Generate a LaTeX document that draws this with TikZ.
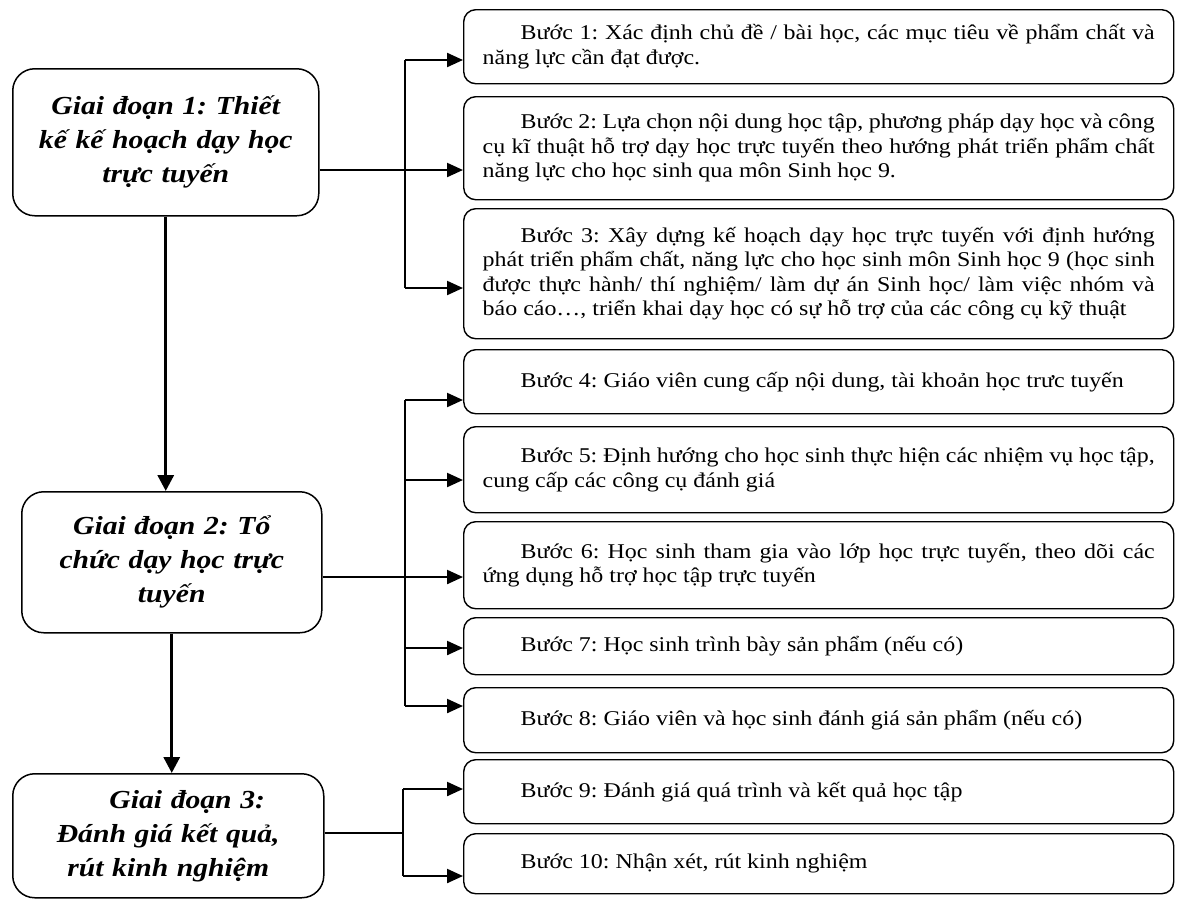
\documentclass[tikz,border=0pt]{standalone}
\usepackage{fontspec}
\setmainfont{Liberation Serif}[FakeStretch=1.14]
\usetikzlibrary{arrows.meta,calc}
\frenchspacing

\begin{document}
\begin{tikzpicture}[x=1pt,y=-1pt]
    \tikzstyle{stage node}=[draw,line width=1.5pt,rounded corners=22pt,anchor=north west,inner sep=0pt,text width=300pt,align=center,font=\fontsize{26}{34}\selectfont\bfseries\itshape]
    \tikzstyle{step node}=[draw,line width=1.4pt,rounded corners=12pt,anchor=north west,inner xsep=19pt,inner ysep=0pt,text width=672pt,align=justify,font=\fontsize{21}{24.5}\selectfont,execute at begin node={\hspace*{38pt}}]
    \tikzstyle{link}=[line width=2.2pt]
    \tikzstyle{branch}=[line width=2.2pt,-{Triangle[length=16pt,width=14pt]}]
    \tikzstyle{flow}=[line width=3.2pt,-{Triangle[length=16pt,width=16pt]}]
    \useasboundingbox (0,0) rectangle (1177,898);

    % stages
    \node(g1)[stage node,minimum width=306pt,minimum height=147pt] at (12,68)
        {Giai đoạn 1: Thiết\\ kế kế hoạch dạy học\\ trực tuyến};
    \node(g2)[stage node,minimum width=298pt,minimum height=141pt] at (21,491)
        {Giai đoạn 2: Tổ\\ chức dạy học trực\\ tuyến};
    \node(g3)[stage node,minimum width=311pt,minimum height=124pt] at (12,773)
        {\hspace*{38pt}Giai đoạn 3:\\ Đánh giá kết quả,\\ rút kinh nghiệm};

    % steps
    \node(s1)[step node,minimum height=74pt] at (463,9)
        {Bước 1: Xác định chủ đề / bài học, các mục tiêu về phẩm chất và\linebreak năng lực cần đạt được.};
    \node(s2)[step node,minimum height=103pt] at (463,96)
        {Bước 2: Lựa chọn nội dung học tập, phương pháp dạy học và công\linebreak cụ kĩ thuật hỗ trợ dạy học trực tuyến theo hướng phát triển phẩm chất\linebreak năng lực cho học sinh qua môn Sinh học 9.};
    \node(s3)[step node,minimum height=130pt] at (463,208)
        {Bước 3: Xây dựng kế hoạch dạy học trực tuyến với định hướng\linebreak phát triển phẩm chất, năng lực cho học sinh môn Sinh học 9 (học sinh\linebreak được thực hành/ thí nghiệm/ làm dự án Sinh học/ làm việc nhóm và\linebreak báo cáo…, triển khai dạy học có sự hỗ trợ của các công cụ kỹ thuật\parfillskip=0pt\relax};
    \node(s4)[step node,minimum height=64pt] at (463,349)
        {Bước 4: Giáo viên cung cấp nội dung, tài khoản học trưc tuyến};
    \node(s5)[step node,minimum height=86pt] at (463,426)
        {Bước 5: Định hướng cho học sinh thực hiện các nhiệm vụ học tập,\linebreak cung cấp các công cụ đánh giá};
    \node(s6)[step node,minimum height=87pt] at (463,521)
        {Bước 6: Học sinh tham gia vào lớp học trực tuyến, theo dõi các\linebreak ứng dụng hỗ trợ học tập trực tuyến};
    \node(s7)[step node,minimum height=57pt] at (463,617)
        {Bước 7: Học sinh trình bày sản phẩm (nếu có)};
    \node(s8)[step node,minimum height=65pt] at (463,687)
        {Bước 8: Giáo viên và học sinh đánh giá sản phẩm (nếu có)};
    \node(s9)[step node,minimum height=64pt] at (463,759)
        {Bước 9: Đánh giá quá trình và kết quả học tập};
    \node(s10)[step node,minimum height=60pt] at (463,833)
        {Bước 10: Nhận xét, rút kinh nghiệm};

    % stage to stage
    \draw[flow] (g1.south) -- (g1.south |- g2.north);
    \draw[flow] (g2.south) -- (g2.south |- g3.north);

    % stage 1 branches
    \coordinate(j1) at (405,170);
    \coordinate(t1) at (405,60);
    \coordinate(b1) at (405,288);
    \draw[link] (g1.east |- j1) -- (j1);
    \draw[link] (t1) -- (b1);
    \draw[branch] (t1) -- (t1 -| s1.west);
    \draw[branch] (j1) -- (j1 -| s2.west);
    \draw[branch] (b1) -- (b1 -| s3.west);

    % stage 2 branches
    \coordinate(j2) at (405,577);
    \coordinate(t2) at (405,400);
    \coordinate(b2) at (405,706);
    \draw[link] (g2.east |- j2) -- (j2);
    \draw[link] (t2) -- (b2);
    \foreach \y/\s in {400/s4,480/s5,577/s6,648/s7,706/s8}
        \draw[branch] (405,\y) -- (\s.west |- 405,\y);

    % stage 3 branches
    \coordinate(j3) at (403,833);
    \coordinate(t3) at (403,789);
    \coordinate(b3) at (403,876);
    \draw[link] (g3.east |- j3) -- (j3);
    \draw[link] (t3) -- (b3);
    \draw[branch] (t3) -- (t3 -| s9.west);
    \draw[branch] (b3) -- (b3 -| s10.west);
\end{tikzpicture}
\end{document}
